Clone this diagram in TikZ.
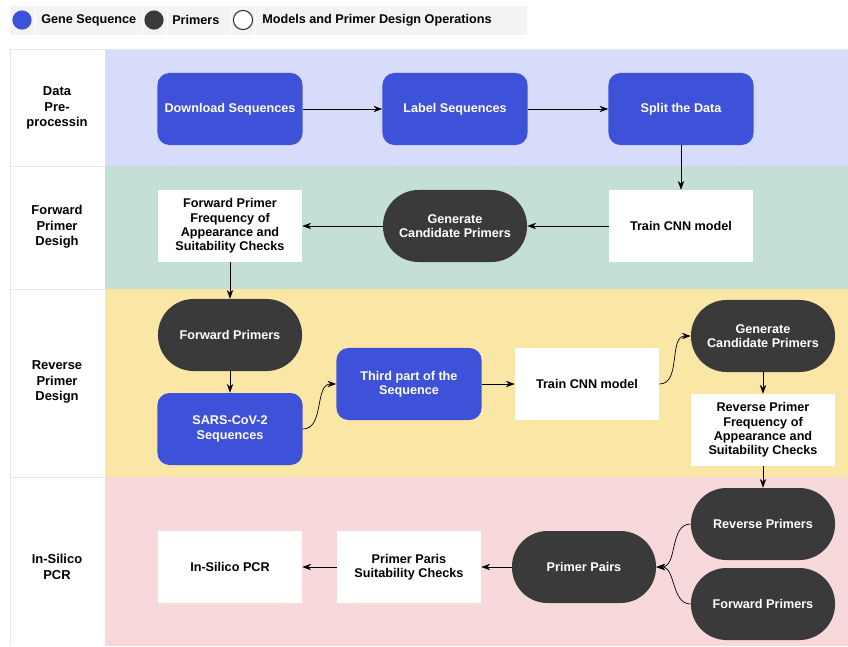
\documentclass[tikz,border=0pt]{standalone}
\usepackage{fontspec}
\setmainfont{Liberation Sans}
\usepackage{tikz}
\usetikzlibrary{arrows.meta}
\usetikzlibrary{positioning}

\definecolor{seqblue}{HTML}{3E51D9}
\definecolor{primergray}{HTML}{3A3A3A}
\definecolor{laneblue}{HTML}{D7DCFA}
\definecolor{lanegreen}{HTML}{C4DFD7}
\definecolor{laneyellow}{HTML}{FAE6A5}
\definecolor{lanepink}{HTML}{F7D9DB}
\definecolor{legendgray}{HTML}{F3F3F3}
\definecolor{linegray}{HTML}{E6E6E6}

\begin{document}
\begin{tikzpicture}[x=0.025cm, y=-0.025cm,
		font=\fontsize{9}{10.2}\selectfont\bfseries,
		seqbox/.style={fill=seqblue, text=white, rounded corners=0.3cm, minimum width=3.625cm, minimum height=1.8cm, align=center, inner sep=0pt},
		primer/.style={fill=primergray, text=white, rounded corners=0.89cm, minimum width=3.6cm, minimum height=1.8cm, align=center, inner sep=0pt},
		opbox/.style={fill=white, minimum width=3.6cm, minimum height=1.8cm, align=center, inner sep=0pt},
		lanelabel/.style={align=center, inner sep=0pt, font=\fontsize{9.2}{11}\selectfont\bfseries},
		legenddot/.style={circle, minimum size=0.48cm, inner sep=0pt},
		flow/.style={-{Stealth[length=2.2mm, width=1.6mm]}, black, line width=0.5pt}]
		\useasboundingbox (0,0) rectangle (848,646);
		\fill[white] (0,0) rectangle (848,646);

		% legend
		\fill[legendgray] (10,6) rectangle (527,35);
		\foreach \x in {35,142,167,230,255}{
				\draw[white, line width=0.6pt] (\x,6) -- (\x,35);
		}
		\node[legenddot, fill=seqblue] (dotseq) at (22,20) {};
		\node[anchor=west, inner sep=0pt] (legseq) at (41,20) {Gene Sequence};
		\node[legenddot, fill=primergray] (dotprimer) at (154,20) {};
		\node[anchor=west, inner sep=0pt] (legprimer) at (172,20) {Primers};
		\node[legenddot, fill=white, draw=primergray, line width=0.8pt] (dotop) at (243,20) {};
		\node[anchor=west, inner sep=0pt] (legop) at (262,20) {Models and Primer Design Operations};
		\draw[linegray] (10,49) -- (848,49);

		% lanes
		\fill[laneblue] (105,50) rectangle (848,166);
		\fill[lanegreen] (105,166) rectangle (848,289);
		\fill[laneyellow] (105,289) rectangle (848,477);
		\fill[lanepink] (105,477) rectangle (848,646);
		\draw[linegray] (10,49) -- (10,646);
		\foreach \y in {166,289,477}{
				\draw[linegray] (10,\y) -- (105,\y);
		}
		\node[lanelabel] (lanedata) at (57,108) {Data\\Pre-\\processin};
		\node[lanelabel] (lanefwd) at (57,227) {Forward\\Primer\\Desigh};
		\node[lanelabel] (lanerev) at (57,382) {Reverse\\Primer\\Design};
		\node[lanelabel] (lanepcr) at (57,567) {In-Silico\\PCR};

		% data pre-processing
		\node[seqbox] (download) at (230,109) {Download Sequences};
		\node[seqbox] (label) at (455,109) {Label Sequences};
		\node[seqbox] (split) at (681,109) {Split the Data};

		% forward primer design
		\node[opbox] (trainfwd) at (681,226) {Train CNN model};
		\node[primer] (genfwd) at (455,226) {Generate\\Candidate Primers};
		\node[opbox] (checkfwd) at (230,226) {Forward Primer\\Frequency of\\Appearance and\\Suitability Checks};

		% reverse primer design
		\node[primer] (fwdprimers) at (230,335) {Forward Primers};
		\node[seqbox] (sars) at (230,429) {SARS-CoV-2\\Sequences};
		\node[seqbox] (third) at (409,384) {Third part of the\\Sequence};
		\node[opbox] (trainrev) at (587,384) {Train CNN model};
		\node[primer] (genrev) at (763,336) {Generate\\Candidate Primers};
		\node[opbox] (checkrev) at (763,430) {Reverse Primer\\Frequency of\\Appearance and\\Suitability Checks};

		% in-silico pcr
		\node[primer] (revprimers) at (763,524) {Reverse Primers};
		\node[primer] (fwdprimerspcr) at (763,604) {Forward Primers};
		\node[primer] (pairs) at (584,567) {Primer Pairs};
		\node[opbox] (pairscheck) at (409,567) {Primer Paris\\Suitability Checks};
		\node[opbox] (pcr) at (230,567) {In-Silico PCR};

		% connectors
		\draw[flow] (download) -- (label);
		\draw[flow] (label) -- (split);
		\draw[flow] (split) -- (trainfwd);
		\draw[flow] (trainfwd) -- (genfwd);
		\draw[flow] (genfwd) -- (checkfwd);
		\draw[flow] (checkfwd) -- (fwdprimers);
		\draw[flow] (fwdprimers) -- (sars);
		\draw[flow] (sars.east) to[out=0, in=180] (third.west);
		\draw[flow] (third) -- (trainrev);
		\draw[flow] (trainrev.east) to[out=0, in=180] (genrev.west);
		\draw[flow] (genrev) -- (checkrev);
		\draw[flow] (checkrev) -- (revprimers);
		\draw[flow] (revprimers.west) to[out=180, in=0] (pairs.east);
		\draw[flow] (fwdprimerspcr.west) to[out=180, in=0] (pairs.east);
		\draw[flow] (pairs) -- (pairscheck);
		\draw[flow] (pairscheck) -- (pcr);
\end{tikzpicture}
\end{document}
